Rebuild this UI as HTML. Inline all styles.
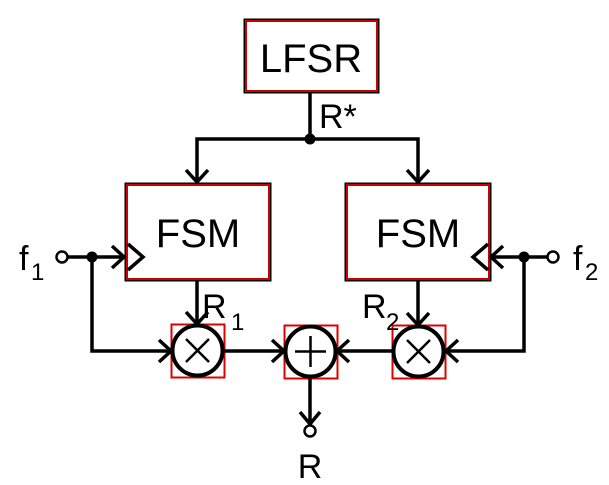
<!DOCTYPE html>
<html><head><style>html,body{margin:0;padding:0;background:#fff}</style></head><body>
<svg width="609" height="485" viewBox="0 0 609 485" xmlns="http://www.w3.org/2000/svg" style="display:block">
<g font-family="Liberation Sans, sans-serif" fill="#000">
<g fill="none">
<rect x="245" y="20" width="133" height="72" stroke="#000" stroke-width="3"/>
<rect x="246" y="21" width="131" height="70" stroke="#c00" stroke-width="2"/>
<rect x="126" y="184" width="144" height="96" stroke="#000" stroke-width="3"/>
<rect x="127" y="185" width="142" height="94" stroke="#c00" stroke-width="2"/>
<rect x="346" y="184" width="144" height="96" stroke="#000" stroke-width="3"/>
<rect x="347" y="185" width="142" height="94" stroke="#c00" stroke-width="2"/>
<rect x="171.5" y="324.5" width="53" height="53" stroke="#d00" stroke-width="2"/>
<rect x="284.5" y="325.5" width="53" height="53" stroke="#d00" stroke-width="2"/>
<rect x="392.5" y="325.5" width="53" height="53" stroke="#d00" stroke-width="2"/>
</g>
<text x="311" y="72" font-size="40" text-anchor="middle">LFSR</text>
<text x="198" y="247" font-size="40" text-anchor="middle">FSM</text>
<text x="418" y="247" font-size="40" text-anchor="middle">FSM</text>
<g fill="none" stroke="#000" stroke-width="3.5">
<line x1="310" y1="92" x2="310" y2="139"/>
<polyline points="197,182 197,139 418,139 418,182"/>
<polyline points="186,170 197,182 208,170"/>
<polyline points="407,170 418,182 429,170"/>
<line x1="67" y1="257" x2="126" y2="257"/>
<polyline points="112,246 124,257 112,268"/>
<polyline points="128,244 143,257 128,270"/>
<line x1="489" y1="257" x2="548" y2="257"/>
<polyline points="503,246 491,257 503,268"/>
<polyline points="488,244 473,257 488,270"/>
<polyline points="92,257 92,351 171,351"/>
<polyline points="159,340 171,351 159,362"/>
<polyline points="524,257 524,351 446,351"/>
<polyline points="458,340 446,351 458,362"/>
<line x1="197" y1="280" x2="197" y2="324"/>
<polyline points="186,312 197,324 208,312"/>
<line x1="418" y1="280" x2="418" y2="325"/>
<polyline points="407,313 418,325 429,313"/>
<line x1="223" y1="351" x2="284" y2="351"/>
<polyline points="272,340 284,351 272,362"/>
<line x1="392" y1="351" x2="337" y2="351"/>
<polyline points="349,340 337,351 349,362"/>
<line x1="310" y1="377" x2="310" y2="424"/>
<polyline points="300,412 310,424 320,412"/>
</g>
<g fill="none" stroke="#000" stroke-width="4">
<circle cx="197.5" cy="350.5" r="25"/>
<circle cx="310.5" cy="351.5" r="25"/>
<circle cx="418.5" cy="351.5" r="25"/>
</g>
<g fill="none" stroke="#000" stroke-width="2.5">
<line x1="186" y1="339" x2="209" y2="362"/><line x1="209" y1="339" x2="186" y2="362"/>
<line x1="407" y1="340" x2="430" y2="363"/><line x1="430" y1="340" x2="407" y2="363"/>
<line x1="310.5" y1="336" x2="310.5" y2="367"/><line x1="295" y1="351.5" x2="326" y2="351.5"/>
<circle cx="62" cy="257" r="5.5" fill="#fff"/>
<circle cx="553" cy="257" r="5.5" fill="#fff"/>
<circle cx="310" cy="431" r="5.5" fill="#fff"/>
</g>
<circle cx="310" cy="139" r="5.5"/>
<circle cx="92" cy="257" r="5.5"/>
<circle cx="524" cy="257" r="5.5"/>
<text x="319" y="128" font-size="34">R*</text>
<text x="202" y="318" font-size="34">R</text><text x="231" y="330" font-size="24">1</text>
<text x="362" y="318" font-size="34">R</text><text x="386" y="330" font-size="24">2</text>
<text x="19" y="270" font-size="34">f</text><text x="31" y="280" font-size="24">1</text>
<text x="573" y="270" font-size="34">f</text><text x="585" y="280" font-size="24">2</text>
<text x="310" y="478" font-size="34" text-anchor="middle">R</text>
</g>
</svg>
</body></html>
